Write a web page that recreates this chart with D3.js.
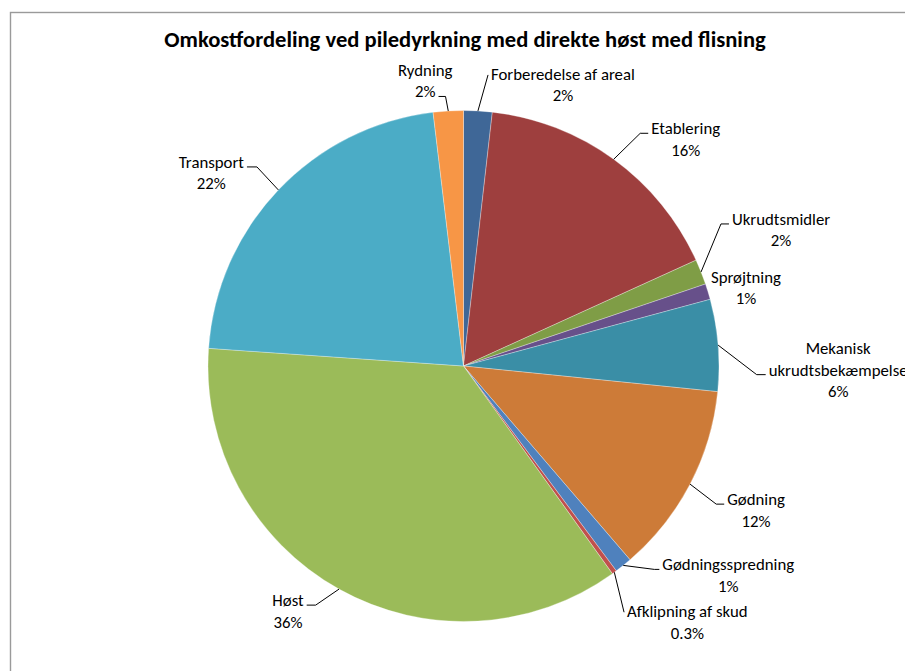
<!DOCTYPE html>
<html>
<head>
<meta charset="utf-8">
<script src="https://cdn.jsdelivr.net/npm/d3@7"></script>
<style>
  html, body { margin: 0; padding: 0; background: #fff; overflow: hidden; }
  svg { display: block; }
</style>
</head>
<body>
<script>
// Cost shares (%) for willow cultivation with direct harvest and chipping
const categories = [
  "Forberedelse af areal", "Etablering", "Ukrudtsmidler", "Sprøjtning",
  "Mekanisk ukrudtsbekæmpelse", "Gødning", "Gødningsspredning",
  "Afklipning af skud", "Høst", "Transport", "Rydning"
];
const values = [1.8, 16.4, 1.6, 1.0, 5.8, 12.1, 1.1, 0.3, 36.0, 22.0, 1.9];
const colors = [
  "#3f6797", "#9e3f3e", "#7f9d46", "#67508a", "#3a8ea6", "#cd7b38",
  "#4f81bd", "#c0504d", "#9bbb59", "#4bacc6", "#f79646"
];
// How each category name is broken over lines in its label
const labelLines = [
  ["Forberedelse af areal"], ["Etablering"], ["Ukrudtsmidler"], ["Sprøjtning"],
  ["Mekanisk", "ukrudtsbekæmpelse"], ["Gødning"], ["Gødningsspredning"],
  ["Afklipning af skud"], ["Høst"], ["Transport"], ["Rydning"]
];
const title = "Omkostfordeling ved piledyrkning med direkte høst med flisning";

// Label placement: offset of the label (centre, first baseline) from the slice's
// outer mid point, and how the leader line attaches to the label text.
const labelLayout = [
  { dx: 85,  dy: -31, line: 0, side: "left",  elbow: 0 },
  { dx: 72,  dy: -25, line: 0, side: "left",  elbow: 8 },
  { dx: 80,  dy: -47, line: 0, side: "left",  elbow: 8 },
  { dx: 38,  dy: -9,  line: null },
  { dx: 120, dy: 9,   line: 1, side: "left",  elbow: 9 },
  { dx: 66,  dy: 21,  line: 0, side: "left",  elbow: 8 },
  { dx: 105, dy: 5,   line: 0, side: "left",  elbow: 5 },
  { dx: 73,  dy: 45,  line: 0, side: "left",  elbow: 0 },
  { dx: -51, dy: 17,  line: 0, side: "right", elbow: 9 },
  { dx: -67, dy: -22, line: 0, side: "right", elbow: 10 },
  { dx: -23, dy: -35, line: 1, side: "right", elbow: 7, vertical: true }
];

const W = 905, H = 671;
const cx = 463.5, cy = 366, R = 255.5;
const font = "Carlito, Calibri, Lato, sans-serif";
const labelSize = 16.8, lineGap = 21.5;

const svg = d3.select("body").append("svg")
  .attr("width", W).attr("height", H)
  .style("font-family", font);

// chart area frame
svg.append("rect")
  .attr("x", 10.5).attr("y", 12.5)
  .attr("width", 1200).attr("height", 1000)
  .attr("fill", "#fff").attr("stroke", "#9a9a9a").attr("stroke-width", 1.4);

svg.append("text")
  .attr("x", 465).attr("y", 47)
  .attr("text-anchor", "middle")
  .attr("font-weight", "bold")
  .attr("font-size", 22.6)
  .attr("fill", "#000")
  .text(title);

const data = categories.map((c, i) => ({ name: c, value: values[i], i }));
const total = d3.sum(values);

const pie = d3.pie().value(d => d.value).sort(null);
const arcs = pie(data);
const arc = d3.arc().innerRadius(0).outerRadius(R);

const g = svg.append("g").attr("transform", `translate(${cx},${cy})`);
g.selectAll("path.slice")
  .data(arcs)
  .join("path")
  .attr("class", "slice")
  .attr("d", arc)
  .attr("fill", d => colors[d.data.i])
  .attr("stroke", "#ffffff")
  .attr("stroke-opacity", 0.5)
  .attr("stroke-width", 0.6);

const pct = v => {
  const p = v / total * 100;
  return (p < 1 && Math.abs(p - Math.round(p)) > 0.05 ? d3.format(".1f")(p) : d3.format(".0f")(p)) + "%";
};

const labels = svg.append("g");
arcs.forEach(a => {
  const i = a.data.i;
  const mid = (a.startAngle + a.endAngle) / 2;
  const px = cx + R * Math.sin(mid);
  const py = cy - R * Math.cos(mid);
  const L = labelLayout[i];
  const lx = px + L.dx, ly = py + L.dy;
  const lines = labelLines[i].concat([pct(a.data.value)]);

  const t = labels.append("text")
    .attr("text-anchor", "middle")
    .attr("font-size", labelSize)
    .attr("fill", "#000");
  const spans = lines.map((s, k) =>
    t.append("tspan").attr("x", lx).attr("y", ly + k * lineGap).text(s));

  if (L.line === null) return;
  const sp = spans[L.line].node();
  const w = sp.getComputedTextLength();
  const by = ly + L.line * lineGap - 1;
  const ex = L.side === "left" ? lx - w / 2 - 3 : lx + w / 2 + 3;
  let pts;
  if (L.vertical) {
    const kx = L.side === "right" ? ex + L.elbow : ex - L.elbow;
    pts = [[px, py], [kx, by], [ex, by]];
  } else if (L.elbow > 0) {
    const kx = L.side === "left" ? ex - L.elbow : ex + L.elbow;
    pts = [[px, py], [kx, by], [ex, by]];
  } else {
    pts = [[px, py], [ex, by - 4]];
  }
  labels.append("path")
    .attr("d", d3.line()(pts))
    .attr("fill", "none")
    .attr("stroke", "#000")
    .attr("stroke-width", 1);
});
</script>
</body>
</html>
